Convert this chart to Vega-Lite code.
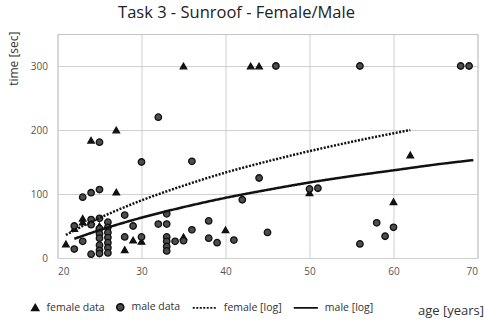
{
  "$schema": "https://vega.github.io/schema/vega-lite/v6.json",
  "width": 420,
  "height": 224,
  "autosize": {"type": "none"},
  "padding": {"left": 57.5, "top": 34, "right": 6.5, "bottom": 62},
  "background": "white",
  "title": {"text": "Task 3 - Sunroof - Female/Male", "fontSize": 16.5, "font": "Open Sans", "fontWeight": "normal", "color": "#222", "anchor": "middle", "offset": 10, "dx": -31},
  "config": {
    "view": {"stroke": "#c4c4c4", "strokeWidth": 1},
    "axis": {"grid": true, "gridColor": "#cfcfcf", "gridWidth": 1, "domain": false, "ticks": false, "labelFont": "Open Sans", "labelFontSize": 10, "labelColor": "#555", "titleFont": "Open Sans", "titleFontWeight": "normal", "titleColor": "#333"},
    "legend": {"orient": "none", "legendX": -27.5, "legendY": 268, "direction": "horizontal", "symbolSize": 49, "labelOffset": 6, "columnPadding": 8, "labelFont": "Open Sans", "labelFontSize": 10.5, "labelColor": "#333", "symbolStrokeWidth": 1.6}
  },
  "datasets": {
    "points": [
      {"series": "female data", "age": 21, "time": 22},
      {"series": "female data", "age": 22, "time": 46},
      {"series": "female data", "age": 23, "time": 62},
      {"series": "female data", "age": 23, "time": 56},
      {"series": "female data", "age": 24, "time": 57},
      {"series": "female data", "age": 24, "time": 184},
      {"series": "female data", "age": 25, "time": 50},
      {"series": "female data", "age": 27, "time": 200},
      {"series": "female data", "age": 27, "time": 103},
      {"series": "female data", "age": 28, "time": 13},
      {"series": "female data", "age": 29, "time": 28},
      {"series": "female data", "age": 30, "time": 26},
      {"series": "female data", "age": 35, "time": 300},
      {"series": "female data", "age": 35, "time": 33},
      {"series": "female data", "age": 40, "time": 44},
      {"series": "female data", "age": 43, "time": 300},
      {"series": "female data", "age": 44, "time": 300},
      {"series": "female data", "age": 50, "time": 102},
      {"series": "female data", "age": 60, "time": 88},
      {"series": "female data", "age": 62, "time": 161},
      {"series": "male data", "age": 22, "time": 14},
      {"series": "male data", "age": 22, "time": 50},
      {"series": "male data", "age": 23, "time": 95},
      {"series": "male data", "age": 23, "time": 26},
      {"series": "male data", "age": 24, "time": 102},
      {"series": "male data", "age": 24, "time": 6},
      {"series": "male data", "age": 24, "time": 60},
      {"series": "male data", "age": 24, "time": 52},
      {"series": "male data", "age": 25, "time": 181},
      {"series": "male data", "age": 25, "time": 107},
      {"series": "male data", "age": 25, "time": 62},
      {"series": "male data", "age": 25, "time": 46},
      {"series": "male data", "age": 25, "time": 38},
      {"series": "male data", "age": 25, "time": 31},
      {"series": "male data", "age": 25, "time": 20},
      {"series": "male data", "age": 25, "time": 12},
      {"series": "male data", "age": 25, "time": 7},
      {"series": "male data", "age": 26, "time": 56},
      {"series": "male data", "age": 26, "time": 48},
      {"series": "male data", "age": 26, "time": 40},
      {"series": "male data", "age": 26, "time": 32},
      {"series": "male data", "age": 26, "time": 24},
      {"series": "male data", "age": 26, "time": 16},
      {"series": "male data", "age": 26, "time": 8},
      {"series": "male data", "age": 28, "time": 67},
      {"series": "male data", "age": 28, "time": 33},
      {"series": "male data", "age": 29, "time": 50},
      {"series": "male data", "age": 30, "time": 150},
      {"series": "male data", "age": 30, "time": 33},
      {"series": "male data", "age": 32, "time": 220},
      {"series": "male data", "age": 32, "time": 53},
      {"series": "male data", "age": 33, "time": 69},
      {"series": "male data", "age": 33, "time": 53},
      {"series": "male data", "age": 33, "time": 33},
      {"series": "male data", "age": 33, "time": 26},
      {"series": "male data", "age": 33, "time": 18},
      {"series": "male data", "age": 33, "time": 11},
      {"series": "male data", "age": 34, "time": 26},
      {"series": "male data", "age": 35, "time": 27},
      {"series": "male data", "age": 36, "time": 151},
      {"series": "male data", "age": 36, "time": 44},
      {"series": "male data", "age": 38, "time": 58},
      {"series": "male data", "age": 38, "time": 31},
      {"series": "male data", "age": 39, "time": 24},
      {"series": "male data", "age": 41, "time": 28},
      {"series": "male data", "age": 42, "time": 91},
      {"series": "male data", "age": 44, "time": 125},
      {"series": "male data", "age": 45, "time": 40},
      {"series": "male data", "age": 46, "time": 300},
      {"series": "male data", "age": 50, "time": 108},
      {"series": "male data", "age": 51, "time": 109},
      {"series": "male data", "age": 56, "time": 300},
      {"series": "male data", "age": 56, "time": 22},
      {"series": "male data", "age": 58, "time": 55},
      {"series": "male data", "age": 59, "time": 34},
      {"series": "male data", "age": 60, "time": 48},
      {"series": "male data", "age": 68, "time": 300},
      {"series": "male data", "age": 69, "time": 300}
    ],
    "fits": [
      {"series": "female [log]", "age": 21, "time": 36},
      {"series": "female [log]", "age": 23, "time": 50},
      {"series": "female [log]", "age": 25, "time": 62.5},
      {"series": "female [log]", "age": 30, "time": 90},
      {"series": "female [log]", "age": 35, "time": 113},
      {"series": "female [log]", "age": 40, "time": 133.5},
      {"series": "female [log]", "age": 45, "time": 151},
      {"series": "female [log]", "age": 50, "time": 167},
      {"series": "female [log]", "age": 55, "time": 181.5},
      {"series": "female [log]", "age": 62, "time": 200},
      {"series": "male [log]", "age": 22, "time": 30},
      {"series": "male [log]", "age": 25, "time": 43.5},
      {"series": "male [log]", "age": 30, "time": 63},
      {"series": "male [log]", "age": 35, "time": 79.5},
      {"series": "male [log]", "age": 40, "time": 94},
      {"series": "male [log]", "age": 45, "time": 106.5},
      {"series": "male [log]", "age": 50, "time": 118},
      {"series": "male [log]", "age": 55, "time": 128},
      {"series": "male [log]", "age": 60, "time": 137},
      {"series": "male [log]", "age": 65, "time": 146},
      {"series": "male [log]", "age": 69.5, "time": 153}
    ]
  },
  "layer": [
    {
      "data": {"name": "points"},
      "mark": {"type": "point", "filled": true, "size": 42, "opacity": 1, "stroke": "#111", "strokeWidth": 1.3},
      "encoding": {
        "x": {"field": "age", "type": "quantitative", "scale": {"domain": [20, 70], "nice": false},
          "axis": {"values": [20, 30, 40, 50, 60, 70], "title": "age [years]", "labelPadding": 8, "titleFontSize": 13, "titleX": 426, "titleY": 52, "titleAlign": "right", "titleBaseline": "middle", "titleAnchor": "end"}},
        "y": {"field": "time", "type": "quantitative", "scale": {"domain": [0, 350], "nice": false},
          "axis": {"values": [0, 50, 100, 150, 200, 250, 300, 350], "title": "time [sec]", "labelPadding": 10, "titleFontSize": 12, "titleAngle": 270, "titleX": -44.5, "titleY": -3, "titleAlign": "right", "titleBaseline": "middle", "titleAnchor": "end"}},
        "fill": {"field": "series", "type": "nominal",
          "scale": {"domain": ["female data", "male data", "female [log]", "male [log]"], "range": ["#111", "#4d4d4d", "transparent", "transparent"]},
          "legend": {"title": null, "labelExpr": "indexof(datum.label, 'log') >= 0 ? '\u200d\u00a0\u00a0\u00a0\u00a0\u00a0\u00a0' + datum.label : datum.label"}},
        "shape": {"field": "series", "type": "nominal",
          "scale": {"domain": ["female data", "male data", "female [log]", "male [log]"], "range": ["triangle-up", "circle", "M-1,0L5.9,0", "M-1,0L5.9,0"]},
          "legend": {"title": null, "labelExpr": "indexof(datum.label, 'log') >= 0 ? '\u200d\u00a0\u00a0\u00a0\u00a0\u00a0\u00a0' + datum.label : datum.label"}}
      }
    },
    {
      "data": {"name": "fits"},
      "mark": {"type": "line", "color": "#111", "strokeWidth": 2.5, "interpolate": "monotone"},
      "encoding": {
        "x": {"field": "age", "type": "quantitative"},
        "y": {"field": "time", "type": "quantitative"},
        "strokeDash": {"field": "series", "type": "nominal",
          "scale": {"domain": ["female data", "male data", "female [log]", "male [log]"], "range": [[1, 0], [1, 0], [2, 1.5], [1, 0]]},
          "legend": {"title": null, "labelExpr": "indexof(datum.label, 'log') >= 0 ? '\u200d\u00a0\u00a0\u00a0\u00a0\u00a0\u00a0' + datum.label : datum.label"}}
      }
    }
  ]
}
